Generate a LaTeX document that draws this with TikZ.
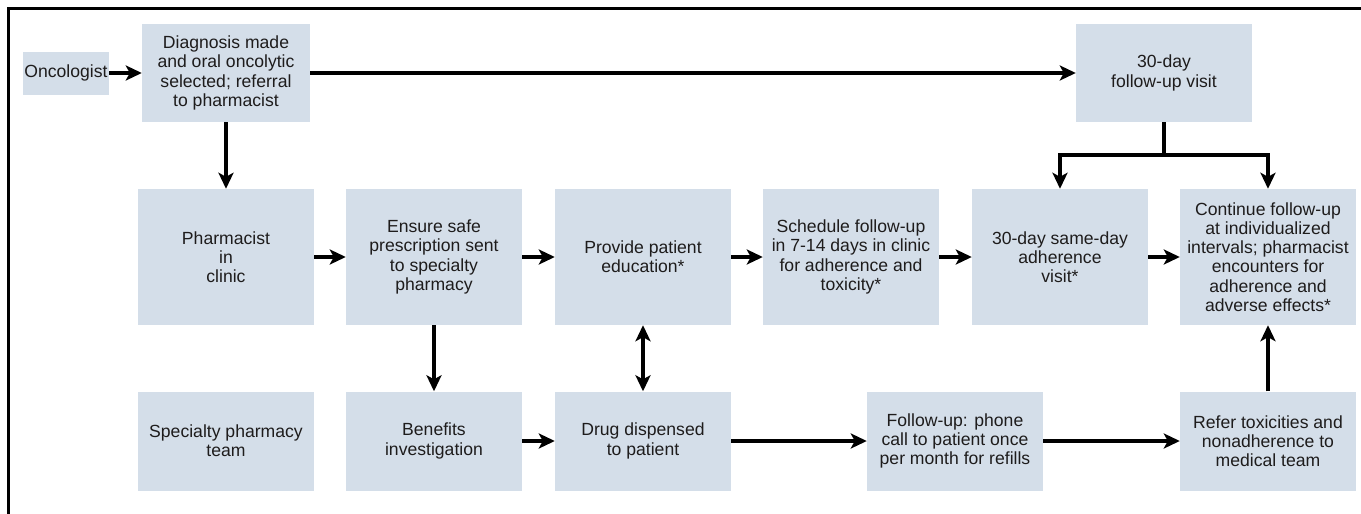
\documentclass[tikz,border=0pt]{standalone}
\usepackage{fontspec}
\setmainfont{Liberation Sans}
\usetikzlibrary{arrows.meta}
\definecolor{boxfill}{RGB}{212,222,233}
\definecolor{txt}{RGB}{30,28,28}
\tikzset{
  box/.style={fill=boxfill, draw=none, align=center, inner sep=0pt, text=txt,
    font=\fontsize{17.6pt}{19.2pt}\selectfont},
  wbox/.style={box, minimum width=176pt},
  r2/.style={wbox, minimum height=136pt},
  r3/.style={wbox, minimum height=99pt},
  tip/.style={},
  arr/.style={line width=3.2pt, -{Stealth[length=16pt,width=15pt,inset=4pt]}},
  darr/.style={line width=3.2pt, {Stealth[length=16pt,width=15pt,inset=4pt]}-{Stealth[length=16pt,width=15pt,inset=4pt]}},
  plain/.style={line width=3.2pt},
  frame/.style={line width=3pt}
}
\begin{document}
\begin{tikzpicture}[x=1pt,y=-1pt]
\useasboundingbox (0,0) rectangle (1361,514);
\draw[frame] (8,514) -- (8,8) -- (1361,8);
% row 1
\node[box, minimum width=86pt, minimum height=43pt] (onc) at (66,73) {Oncologist};
\node[box, minimum width=168pt, minimum height=98pt] (diag) at (226,73) {Diagnosis made\\and oral oncolytic\\selected; referral\\to pharmacist};
\node[wbox, minimum height=98pt] (fu30) at (1164,73) {30-day\\follow-up visit};
% row 2
\node[r2] (pharm) at (226,257) {Pharmacist\\in\\clinic};
\node[r2] (ensure) at (434,257) {Ensure safe\\prescription sent\\to specialty\\pharmacy};
\node[r2] (educ) at (643,257) {Provide patient\\education*};
\node[r2] (sched) at (851,257) {Schedule follow-up\\in 7-14 days in clinic\\for adherence and\\toxicity*};
\node[r2] (adh) at (1060,257) {30-day same-day\\adherence\\visit*};
\node[r2] (cont) at (1268,257) {Continue follow-up\\at individualized\\intervals; pharmacist\\encounters for\\adherence and\\adverse effects*};
% row 3
\node[r3] (spt) at (226,441) {Specialty pharmacy\\team};
\node[r3] (ben) at (434,441) {Benefits\\investigation};
\node[r3] (drug) at (643,441) {Drug dispensed\\to patient};
\node[r3] (phone) at (955,441) {Follow-up: phone\\call to patient once\\per month for refills};
\node[r3] (refer) at (1268,441) {Refer toxicities and\\nonadherence to\\medical team};
% connectors
\draw[arr] (onc) -- (diag);
\draw[arr] (diag) -- (fu30);
\draw[arr] (diag) -- (pharm);
\draw[arr] (pharm) -- (ensure);
\draw[arr] (ensure) -- (educ);
\draw[arr] (educ) -- (sched);
\draw[arr] (sched) -- (adh);
\draw[arr] (adh) -- (cont);
\draw[arr] (ensure) -- (ben);
\draw[darr] (educ) -- (drug);
\draw[arr] (ben) -- (drug);
\draw[arr] (drug) -- (phone);
\draw[arr] (phone) -- (refer);
\draw[arr] (refer) -- (cont);
\coordinate (j) at (1164,155);
\draw[plain] (fu30.south) -- (j);
\draw[arr] (j) -| (adh.north);
\draw[arr] (j) -| (cont.north);
\end{tikzpicture}
\end{document}
